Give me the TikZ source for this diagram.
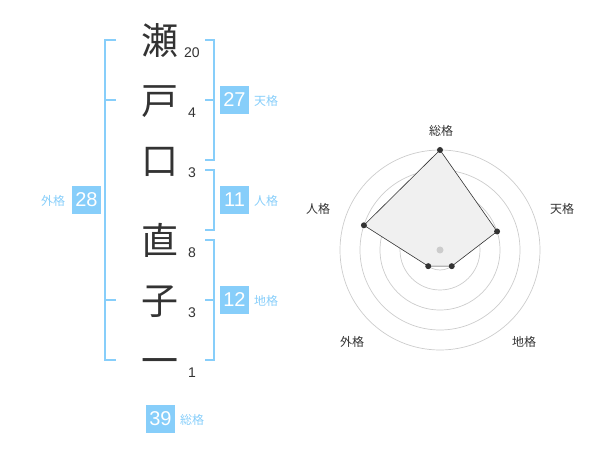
\documentclass[tikz,border=0pt]{standalone}
\usepackage{fontspec}
\usetikzlibrary{calc}
\setmainfont{Liberation Sans}
\newfontfamily\cjk{Noto Sans CJK JP}
\definecolor{sky}{RGB}{135,206,250}
\definecolor{ink}{RGB}{51,51,51}
\definecolor{ring}{RGB}{204,204,204}
\definecolor{polyfill}{RGB}{240,240,240}
\begin{document}
\begin{tikzpicture}[x=1pt,y=-1pt,
  kanji/.style={inner sep=0pt,text=ink,font=\cjk\fontsize{37}{37}\selectfont,text height=32.6pt,text depth=4.4pt},
  stroke/.style={inner sep=0pt,text=ink,font=\fontsize{14}{14}\selectfont},
  valbox/.style={fill=sky,text=white,minimum width=29pt,minimum height=28pt,inner sep=0pt,font=\fontsize{20}{20}\selectfont},
  vlabel/.style={inner sep=0pt,text=sky,font=\cjk\fontsize{12}{12}\selectfont},
  rlabel/.style={inner sep=0pt,text=ink,font=\cjk\fontsize{12}{12}\selectfont},
  brack/.style={draw=sky,line width=2pt},
  ringc/.style={draw=ring,line width=0.7pt},
  dot/.style={circle,fill=ink,inner sep=0pt,minimum size=6pt}]
\useasboundingbox (0,0) rectangle (600,470);
% kanji
\node[kanji] (k1) at (160,40) {瀬};
\node[kanji] (k2) at (160,100) {戸};
\node[kanji] (k3) at (160,160) {口};
\node[kanji] (k4) at (160,240) {直};
\node[kanji] (k5) at (160,300) {子};
\node[kanji] (k6) at (160,360) {一};
% stroke counts
\node[stroke] (s1) at (192,53) {20};
\node[stroke] (s2) at (192,113) {4};
\node[stroke] (s3) at (192,173) {3};
\node[stroke] (s4) at (192,253) {8};
\node[stroke] (s5) at (192,313) {3};
\node[stroke] (s6) at (192,373) {1};
% brackets
\draw[brack] (116,40) -- (105,40) -- (105,360) -- (116,360);
\draw[brack] (105,100) -- (116,100);
\draw[brack] (105,300) -- (116,300);
\draw[brack] (205,40) -- (214,40) -- (214,160) -- (205,160);
\draw[brack] (205,100) -- (214,100);
\draw[brack] (205,170) -- (214,170) -- (214,230) -- (205,230);
\draw[brack] (205,240) -- (214,240) -- (214,360) -- (205,360);
\draw[brack] (205,300) -- (214,300);
% value boxes
\node[valbox] (b1) at (234.5,100) {27};
\node[vlabel] (l1) at (266,101) {天格};
\node[valbox] (b2) at (234.5,200) {11};
\node[vlabel] (l2) at (266,201) {人格};
\node[valbox] (b3) at (234.5,300) {12};
\node[vlabel] (l3) at (266,301) {地格};
\node[valbox] (b4) at (86.5,200) {28};
\node[vlabel] (l4) at (53,201) {外格};
\node[valbox] (b5) at (160.5,419) {39};
\node[vlabel] (l5) at (192,420) {総格};
% radar
\coordinate (c) at (440,250);
\foreach \r in {20,40,60,80,100} \draw[ringc] (c) circle (\r);
\coordinate (p1) at ($(c)+(-90:100)$);
\coordinate (p2) at ($(c)+(-18:60)$);
\coordinate (p3) at ($(c)+(54:20)$);
\coordinate (p4) at ($(c)+(126:20)$);
\coordinate (p5) at ($(c)+(198:80)$);
\draw[fill=polyfill,draw=ink,line width=0.6pt] (p1) -- (p2) -- (p3) -- (p4) -- (p5) -- cycle;
\fill[ring] (c) circle (3.5);
\foreach \p in {p1,p2,p3,p4,p5} \node[dot] at (\p) {};
\node[rlabel] (r1) at (441,131) {総格};
\node[rlabel] (r2) at (562,209) {天格};
\node[rlabel] (r3) at (524,342) {地格};
\node[rlabel] (r4) at (352,342) {外格};
\node[rlabel] (r5) at (318,209) {人格};
\end{tikzpicture}
\end{document}
